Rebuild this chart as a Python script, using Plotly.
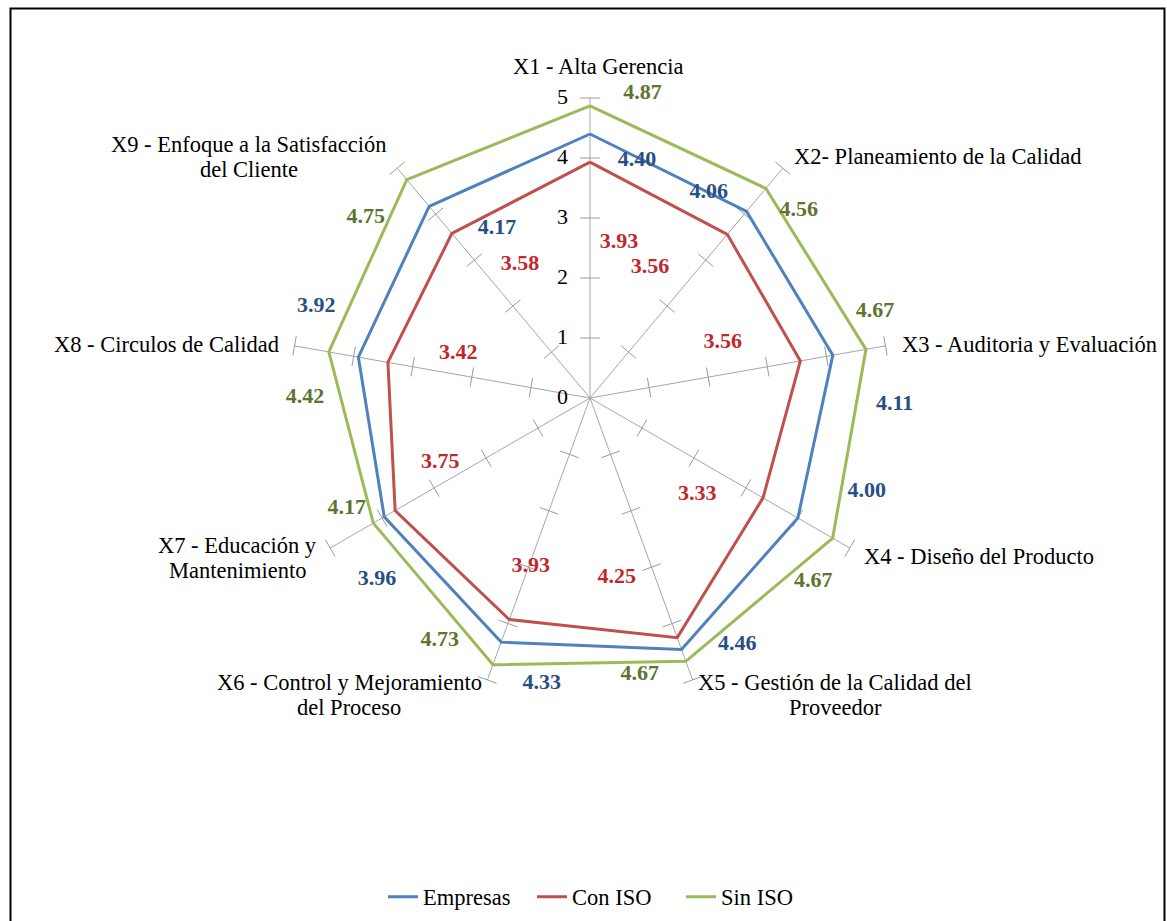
import plotly.graph_objects as go

# ---------------- data ----------------
categories = [
    "X1 - Alta Gerencia",
    "X2- Planeamiento de la Calidad",
    "X3 - Auditoria y Evaluación",
    "X4 - Diseño del Producto",
    "X5 - Gestión de la Calidad del<br>Proveedor",
    "X6 - Control y Mejoramiento<br>del Proceso",
    "X7 - Educación y<br>Mantenimiento",
    "X8 - Circulos de Calidad",
    "X9 - Enfoque a la Satisfacción<br>del Cliente",
]
empresas = [4.40, 4.06, 4.11, 4.00, 4.46, 4.33, 3.96, 3.92, 4.17]
con_iso = [3.93, 3.56, 3.56, 3.33, 4.25, 3.93, 3.75, 3.42, 3.58]
sin_iso = [4.87, 4.56, 4.67, 4.67, 4.67, 4.73, 4.17, 4.42, 4.75]
series_names = ["Empresas", "Con ISO", "Sin ISO"]
radial_ticks = [0, 1, 2, 3, 4, 5]

# ---------------- style / layout ----------------
W, H = 1167, 921
CX, CY, UNIT = 590, 398, 60          # centre and pixels per radial unit
RMAX = 5.5                           # plotting range (labels sit beyond 5)
R = UNIT * RMAX
FONT = "Liberation Serif, Times New Roman, serif"
line_colors = ["#4F81BD", "#C0504D", "#9BBB59"]
label_colors = ["#284F85", "#C0282D", "#5E7430"]
CAT_SIZE = 22.5
LBL_SIZE = 22
LINE_GAP = 25

n = len(categories)
theta = [i * 360.0 / n for i in range(n)]

# data-label placement (radius, angle) per series
label_r = [
    [4.04, 3.95, 5.08, 4.87, 4.78, 4.82, 4.67, 4.81, 3.23],
    [2.63, 2.40, 2.40, 2.40, 3.03, 2.97, 2.72, 2.32, 2.52],
    [5.15, 4.68, 4.96, 4.82, 4.69, 4.75, 4.45, 4.75, 4.80],
]
label_t = [
    [11.2, 30.1, 91.3, 108.7, 149.1, 189.6, 229.5, 288.4, 331.3],
    [10.6, 24.6, 67.2, 131.9, 171.5, 199.4, 246.6, 288.8, 332.4],
    [9.8, 48.0, 73.2, 129.5, 169.8, 211.8, 245.6, 270.2, 308.9],
]

# category label placement in page pixels (x, first-line y, anchor)
cat_pos = [
    (598, 66, "center"),
    (792, 157, "left"),
    (900, 345, "left"),
    (862, 556, "left"),
    (835, 682, "center"),
    (349, 682, "center"),
    (237, 545, "center"),
    (281, 345, "right"),
    (249, 145, "center"),
]

fig = go.Figure()

# spokes from 0 to the top tick value
sp_r, sp_t = [], []
for t in theta:
    sp_r += [radial_ticks[0], radial_ticks[-1], None]
    sp_t += [t, t, None]
fig.add_trace(go.Scatterpolar(
    r=sp_r, theta=sp_t, mode="lines", showlegend=False, hoverinfo="skip",
    line=dict(color="#A6A6A6", width=1), connectgaps=False,
))

# tick crosses on every spoke
tick_r, tick_t, tick_a = [], [], []
for t in theta:
    for v in radial_ticks[1:]:
        tick_r.append(v)
        tick_t.append(t)
        tick_a.append(t)
fig.add_trace(go.Scatterpolar(
    r=tick_r, theta=tick_t, mode="markers", showlegend=False, hoverinfo="skip",
    marker=dict(symbol="line-ew", size=14, angle=tick_a,
                line=dict(width=1, color="#9A9A9A"), color="#9A9A9A"),
))

# radial value labels along the first spoke
fig.add_trace(go.Scatterpolar(
    r=radial_ticks, theta=[theta[0]] * len(radial_ticks), mode="text",
    showlegend=False, hoverinfo="skip",
    text=[f"{v}\u00a0\u00a0\u00a0\u00a0" for v in radial_ticks], textposition="middle left",
    textfont=dict(family=FONT, size=22, color="#000000"),
))

values = [empresas, con_iso, sin_iso]
for name, vals, col in zip(series_names, values, line_colors):
    fig.add_trace(go.Scatterpolar(
        r=vals + vals[:1], theta=theta + theta[:1], mode="lines", name=name,
        line=dict(color=col, width=3),
    ))

for vals, lr, lt, col in zip(values, label_r, label_t, label_colors):
    fig.add_trace(go.Scatterpolar(
        r=lr, theta=lt, mode="text", showlegend=False, hoverinfo="skip",
        text=[f"<b>{v:.2f}</b>" for v in vals],
        textfont=dict(family=FONT, size=LBL_SIZE, color=col),
    ))

annotations = []
for txt, (px, py, anc) in zip(categories, cat_pos):
    for k, line in enumerate(txt.split("<br>")):
        annotations.append(dict(
            x=px / W, y=1 - (py + k * LINE_GAP) / H, xref="paper", yref="paper",
            text=line, showarrow=False, xanchor=anc, yanchor="middle",
            font=dict(family=FONT, size=CAT_SIZE, color="#000000"),
        ))

fig.update_layout(
    width=W, height=H, margin=dict(l=0, r=0, t=0, b=0),
    paper_bgcolor="white", plot_bgcolor="white",
    font=dict(family=FONT, size=22, color="#000000"),
    polar=dict(
        domain=dict(x=[(CX - R) / W, (CX + R) / W], y=[1 - (CY + R) / H, 1 - (CY - R) / H]),
        bgcolor="rgba(0,0,0,0)",
        angularaxis=dict(
            type="linear", thetaunit="degrees", rotation=90, direction="clockwise",
            tickvals=theta, showticklabels=False, ticks="", showline=False,
            showgrid=False,
        ),
        radialaxis=dict(
            range=[0, RMAX], tickvals=radial_ticks, angle=90,
            showticklabels=False, showgrid=False, showline=False, ticks="",
        ),
    ),
    legend=dict(
        orientation="h", x=383 / W, y=1 - 897 / H, xanchor="left", yanchor="middle",
        font=dict(family=FONT, size=CAT_SIZE, color="#000000"), bgcolor="rgba(0,0,0,0)",
        itemwidth=30, entrywidth=104,
    ),
    annotations=annotations,
    shapes=[dict(type="rect", xref="paper", yref="paper",
                 x0=10.5 / W, x1=1164.5 / W, y0=-0.02, y1=1 - 8.5 / H,
                 line=dict(color="#000000", width=2), fillcolor="rgba(0,0,0,0)")],
)

fig.write_html("out.html", config={"displayModeBar": False},
               post_script="document.body.style.margin='0';document.body.style.overflow='hidden';")
